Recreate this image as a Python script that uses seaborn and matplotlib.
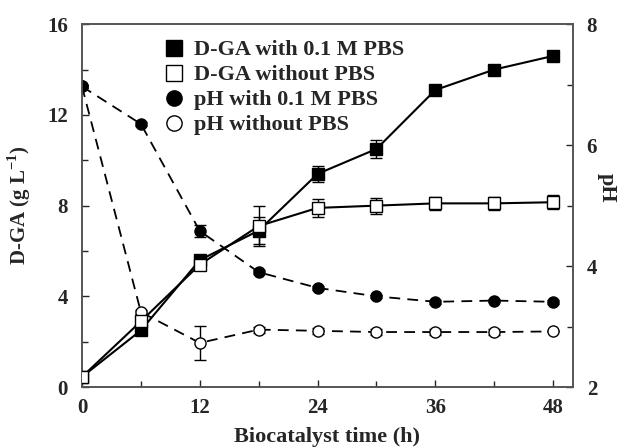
import numpy as np
import pandas as pd
import matplotlib
matplotlib.use("Agg")
import matplotlib.pyplot as plt
import seaborn as sns

# --- Data ---
time_h = [0, 6, 12, 18, 24, 30, 36, 42, 48]

dga_pbs = [0.45, 2.5, 5.6, 6.9, 9.4, 10.5, 13.1, 14.0, 14.6]
dga_pbs_err = [0.1, 0.15, 0.2, 0.6, 0.35, 0.4, 0.2, 0.15, 0.15]
dga_nopbs = [0.45, 2.9, 5.4, 7.1, 7.9, 8.0, 8.1, 8.1, 8.15]
dga_nopbs_err = [0.1, 0.2, 0.2, 0.9, 0.4, 0.35, 0.3, 0.3, 0.3]

ph_pbs = [6.97, 6.35, 4.58, 3.9, 3.64, 3.5, 3.41, 3.43, 3.41]
ph_pbs_err = [0.03, 0.03, 0.1, 0.03, 0.03, 0.03, 0.03, 0.03, 0.03]
ph_nopbs = [6.97, 3.24, 2.73, 2.95, 2.93, 2.91, 2.91, 2.91, 2.92]
ph_nopbs_err = [0.03, 0.03, 0.28, 0.05, 0.05, 0.05, 0.05, 0.05, 0.0]

labels = ["D-GA with 0.1 M PBS", "D-GA without PBS",
          "pH with 0.1 M PBS", "pH without PBS"]

sns.set_style("ticks")
plt.rcParams["font.family"] = ["Liberation Serif", "DejaVu Serif"]
plt.rcParams["font.weight"] = "bold"
plt.rcParams["mathtext.fontset"] = "custom"
plt.rcParams["mathtext.rm"] = "Liberation Serif:bold"

fig, ax = plt.subplots(figsize=(6.26, 4.48), dpi=100)
ax2 = ax.twinx()

df_dga = pd.DataFrame({"t": time_h, "pbs": dga_pbs, "nopbs": dga_nopbs})
df_ph = pd.DataFrame({"t": time_h, "pbs": ph_pbs, "nopbs": ph_nopbs})

# pH curves (right axis, dashed)
ax2.errorbar(df_ph["t"], df_ph["nopbs"], yerr=ph_nopbs_err, color="black",
             ls=(0, (6, 4)), lw=1.3, marker="o", ms=8, mfc="white", mec="black",
             mew=1.0, capsize=4, elinewidth=1.0, zorder=3)
ax2.errorbar(df_ph["t"], df_ph["pbs"], yerr=ph_pbs_err, color="black",
             ls=(0, (6, 4)), lw=1.3, marker="o", ms=8, mfc="black", mec="black",
             capsize=4, elinewidth=1.0, zorder=3)

# D-GA curves (left axis, solid)
ax.errorbar(df_dga["t"], df_dga["pbs"], yerr=dga_pbs_err, color="black",
            ls="-", lw=1.5, marker="s", ms=8, mfc="black", mec="black",
            capsize=4, elinewidth=1.0, zorder=3)
ax.errorbar(df_dga["t"], df_dga["nopbs"], yerr=dga_nopbs_err, color="black",
            ls="-", lw=1.5, marker="s", ms=8, mfc="white", mec="black",
            mew=1.0, capsize=4, elinewidth=1.0, zorder=4)

ax.set_zorder(ax2.get_zorder() + 1)
ax.patch.set_visible(False)

ax.set_xlim(0, 50)
ax.set_ylim(0, 16)
ax2.set_ylim(2, 8)
ax.set_xticks([0, 12, 24, 36, 48])
ax.set_xticks(np.arange(0, 49, 6), minor=True)
ax.set_yticks([0, 4, 8, 12, 16])
ax.set_yticks(np.arange(0, 17, 2), minor=True)
ax2.set_yticks([2, 4, 6, 8])
ax2.set_yticks(np.arange(2, 8.1, 1), minor=True)

for a in (ax, ax2):
    a.tick_params(which="both", direction="in", labelsize=15, width=1.0, pad=10)
    a.tick_params(which="major", length=5)
    a.tick_params(which="minor", length=4)
    for s in a.spines.values():
        s.set_linewidth(1.2)
        s.set_color("#555555")
    for lab in a.get_xticklabels() + a.get_yticklabels():
        lab.set_fontweight("bold")
ax.tick_params(axis="x", pad=8)

ax.set_xlabel("Biocatalyst time (h)", fontsize=16, fontweight="bold", labelpad=6)
ax.set_ylabel("D-GA (g L$^{\\mathrm{-1}}$)", fontsize=15, fontweight="bold")
ax.yaxis.set_label_coords(-0.1, 0.5)
ax2.set_ylabel("pH", fontsize=16, fontweight="bold", rotation=270)
ax2.yaxis.set_label_coords(1.09, 0.55)

handles = [
    plt.Line2D([], [], ls="", marker="s", ms=11, mfc="black", mec="black"),
    plt.Line2D([], [], ls="", marker="s", ms=11, mfc="white", mec="black", mew=1.0),
    plt.Line2D([], [], ls="", marker="o", ms=11, mfc="black", mec="black"),
    plt.Line2D([], [], ls="", marker="o", ms=11, mfc="white", mec="black", mew=1.0),
]
ax.legend(handles, labels, loc="upper left", bbox_to_anchor=(0.124, 1.012),
          frameon=False, handletextpad=0.38, handlelength=1.0,
          labelspacing=0.2, prop={"weight": "bold", "size": 16})

fig.subplots_adjust(left=0.131, right=0.915, top=0.946, bottom=0.136)
fig.savefig("out.png", dpi=100)
